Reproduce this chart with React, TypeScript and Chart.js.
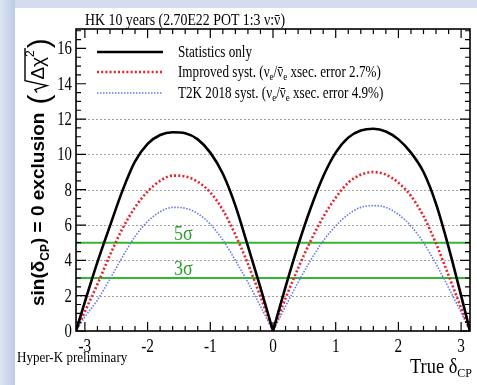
import React, { useEffect, useRef } from "react";
import { Chart, registerables } from "chart.js";

Chart.register(...registerables);

// ---------------- data ----------------
const deltaCP = [
  -3.1416, -3.0, -2.8, -2.6, -2.4, -2.2, -2.0, -1.8, -1.6, -1.4, -1.2, -1.0, -0.8, -0.6, -0.4, -0.2,
  0,
  0.2, 0.4, 0.6, 0.8, 1.0, 1.2, 1.4, 1.6, 1.8, 2.0, 2.2, 2.4, 2.6, 2.8, 3.0, 3.1416,
];
const statsOnly = [
  0, 1.65, 3.9, 5.95, 7.95, 9.6, 10.6, 11.1, 11.25, 11.2, 10.85, 10.1, 8.9, 7.1, 4.8, 2.45,
  0,
  2.5, 4.85, 6.95, 8.75, 10.1, 10.95, 11.35, 11.45, 11.3, 10.85, 10.1, 9.0, 7.2, 4.75, 2.0, 0,
];
const improvedSyst = [
  0, 1.1, 2.65, 4.3, 5.8, 7.0, 7.9, 8.5, 8.8, 8.75, 8.45, 7.85, 6.85, 5.45, 3.8, 1.95,
  0,
  1.85, 3.55, 5.1, 6.45, 7.55, 8.4, 8.85, 9.0, 8.85, 8.4, 7.65, 6.5, 4.95, 3.15, 1.3, 0,
];
const t2k2018Syst = [
  0, 0.8, 1.75, 2.95, 4.2, 5.35, 6.2, 6.75, 7.0, 6.95, 6.65, 6.05, 5.15, 4.0, 2.75, 1.4,
  0,
  1.4, 2.75, 4.0, 5.1, 5.95, 6.6, 7.0, 7.1, 7.0, 6.6, 5.95, 5.0, 3.8, 2.45, 1.05, 0,
];
const sigmaLevels = [5, 3];
const sigmaLabels = ["5σ", "3σ"];
const yTickValues = [0, 2, 4, 6, 8, 10, 12, 14, 16];
const xTickValues = [-3, -2, -1, 0, 1, 2, 3];
const gridValues = [2, 4, 6, 8, 10, 12];
const xMin = -Math.PI;
const xMax = Math.PI;
const yMin = 0;
const yMax = 17.1;

const W = 477;
const H = 385;
const SERIF = '"Liberation Serif"';
const SANS = '"Liberation Sans"';
const GREEN = "#34b534";

type Run = { t: string; font: string; dy?: number; over?: number; color?: string };

function runsWidth(ctx: any, runs: Run[], sx: number) {
  let w = 0;
  for (const r of runs) {
    ctx.font = r.font;
    w += ctx.measureText(r.t).width * sx;
  }
  return w;
}

function drawRuns(ctx: any, runs: Run[], x: number, y: number, sx: number, align = "left") {
  const total = runsWidth(ctx, runs, sx);
  let cx = align === "center" ? x - total / 2 : align === "right" ? x - total : x;
  for (const r of runs) {
    ctx.font = r.font;
    const w = ctx.measureText(r.t).width * sx;
    ctx.save();
    ctx.fillStyle = r.color || "#000";
    ctx.textAlign = "left";
    ctx.textBaseline = "alphabetic";
    ctx.translate(cx, y + (r.dy || 0));
    ctx.scale(sx, 1);
    ctx.fillText(r.t, 0, 0);
    ctx.restore();
    if (r.over) {
      ctx.fillStyle = r.color || "#000";
      ctx.fillRect(cx + 1, y + (r.dy || 0) - r.over, w - 2, 1);
    }
    cx += w;
  }
  return total;
}

function split(arr: number[]) {
  const zi = deltaCP.indexOf(0);
  const pts = arr.map((v, i) => ({ x: deltaCP[i], y: v }));
  return [pts.slice(0, zi + 1), pts.slice(zi)];
}

const decorPlugin = {
  id: "hkDecor",
  beforeDraw(chart: any) {
    const ctx = chart.ctx;
    ctx.save();
    const g = ctx.createLinearGradient(0, 0, 15, 0);
    g.addColorStop(0, "#dde5f2");
    g.addColorStop(1, "#bccbe6");
    ctx.fillStyle = g;
    ctx.fillRect(0, 0, W, H);
    ctx.fillStyle = "#d3ddef";
    ctx.fillRect(15, 0, W - 15, 8);
    ctx.fillStyle = "#ffffff";
    ctx.fillRect(15, 8, W - 15, H - 8);
    ctx.restore();
  },
  beforeDatasetsDraw(chart: any) {
    const { ctx, chartArea: a, scales } = chart;
    const ys = scales.y;
    ctx.save();
    ctx.strokeStyle = "#a0a0a0";
    ctx.lineWidth = 1;
    ctx.setLineDash([2, 2]);
    for (const v of gridValues) {
      const py = Math.round(ys.getPixelForValue(v)) + 0.5;
      ctx.beginPath();
      ctx.moveTo(a.left, py);
      ctx.lineTo(a.right, py);
      ctx.stroke();
    }
    ctx.restore();
  },
  afterDatasetsDraw(chart: any) {
    const { ctx, chartArea: a, scales } = chart;
    const xs = scales.x;
    const ys = scales.y;
    ctx.save();
    // frame
    ctx.strokeStyle = "#000";
    ctx.lineWidth = 1.6;
    ctx.strokeRect(a.left, a.top, a.right - a.left, a.bottom - a.top);
    // ticks
    ctx.lineWidth = 1.2;
    ctx.beginPath();
    for (let k = 0; k * 0.5 <= yMax; k++) {
      const v = k * 0.5;
      const py = ys.getPixelForValue(v);
      const len = k % 4 === 0 ? 10 : 5;
      ctx.moveTo(a.left, py);
      ctx.lineTo(a.left + len, py);
      ctx.moveTo(a.right, py);
      ctx.lineTo(a.right - len, py);
    }
    for (let k = -15; k <= 15; k++) {
      const v = k * 0.2;
      const px = xs.getPixelForValue(v);
      const len = k % 5 === 0 ? 9 : 5;
      ctx.moveTo(px, a.bottom);
      ctx.lineTo(px, a.bottom - len);
      ctx.moveTo(px, a.top);
      ctx.lineTo(px, a.top + len);
    }
    ctx.stroke();

    // tick labels
    ctx.fillStyle = "#000";
    for (const v of yTickValues) {
      const py = ys.getPixelForValue(v);
      drawRuns(ctx, [{ t: String(v), font: `18px ${SERIF}` }], a.left - 4, py + 6, 0.82, "right");
    }
    for (const v of xTickValues) {
      const px = xs.getPixelForValue(v);
      drawRuns(ctx, [{ t: String(v), font: `18px ${SERIF}` }], px, a.bottom + 21, 0.85, "center");
    }

    // sigma labels
    sigmaLevels.forEach((lv, i) => {
      const py = ys.getPixelForValue(lv);
      drawRuns(ctx, [{ t: sigmaLabels[i], font: `20px ${SERIF}`, color: "#2a9e2a" }], xs.getPixelForValue(-1.43), py - 3, 0.9, "center");
    });

    // title
    drawRuns(
      ctx,
      [
        { t: "HK 10 years (2.70E22 POT 1:3 ν:", font: `16.5px ${SERIF}` },
        { t: "ν", font: `16.5px ${SERIF}`, over: 10 },
        { t: ")", font: `16.5px ${SERIF}` },
      ],
      85,
      25,
      0.84
    );

    // legend
    const ds = chart.data.datasets.filter((d: any) => d.legendText);
    const rows = [52, 72, 93];
    ds.forEach((d: any, i: number) => {
      const y = rows[i];
      ctx.save();
      ctx.strokeStyle = d.borderColor;
      ctx.lineWidth = d.borderWidth;
      ctx.setLineDash(d.borderDash || []);
      ctx.beginPath();
      ctx.moveTo(97, y);
      ctx.lineTo(163, y);
      ctx.stroke();
      ctx.restore();
      drawRuns(ctx, d.legendText, 178, y + 5, 0.82);
    });

    // x title
    drawRuns(
      ctx,
      [
        { t: "True δ", font: `20px ${SERIF}` },
        { t: "CP", font: `13px ${SERIF}`, dy: 4 },
      ],
      472,
      373,
      0.92,
      "right"
    );
    // preliminary
    drawRuns(ctx, [{ t: "Hyper-K preliminary", font: `14.5px ${SERIF}` }], 17, 362, 0.9);

    // y title (rotated)
    ctx.save();
    ctx.translate(44, 306);
    ctx.rotate(-Math.PI / 2);
    let x = 0;
    x += drawRuns(ctx, [{ t: "sin(δ", font: `bold 19px ${SANS}` }], x, 0, 1);
    x += drawRuns(ctx, [{ t: "CP", font: `bold 12px ${SANS}`, dy: 5 }], x, 0, 1);
    x += drawRuns(ctx, [{ t: ") = 0 exclusion", font: `bold 19px ${SANS}` }], x, 0, 1);
    x += 8;
    x += drawRuns(ctx, [{ t: "(", font: `30px ${SANS}`, dy: 5 }], x, 0, 1);
    x += 2;
    const body: Run[] = [{ t: "Δχ", font: `19px ${SANS}` }];
    const bw = runsWidth(ctx, body, 1);
    ctx.strokeStyle = "#000";
    ctx.lineWidth = 1.4;
    ctx.beginPath();
    ctx.moveTo(x, -7);
    ctx.lineTo(x + 3, -9);
    ctx.lineTo(x + 7, 3);
    ctx.lineTo(x + 12, -19);
    ctx.lineTo(x + 12 + bw + 10, -19);
    ctx.stroke();
    x += 13;
    x += drawRuns(ctx, body, x, 0, 1);
    x += drawRuns(ctx, [{ t: "2", font: `12px ${SANS}`, dy: -10 }], x, 0, 1);
    x += 2;
    drawRuns(ctx, [{ t: ")", font: `30px ${SANS}`, dy: 5 }], x, 0, 1);
    ctx.restore();

    ctx.restore();
  },
};

export default function App() {
  const ref = useRef<HTMLCanvasElement>(null);
  useEffect(() => {
    document.body.style.margin = "0";
    const [sL, sR] = split(statsOnly);
    const [iL, iR] = split(improvedSyst);
    const [tL, tR] = split(t2k2018Syst);
    const blackStyle = { borderColor: "#000000", borderWidth: 2.6, borderDash: [] as number[], order: 0 };
    const redStyle = { borderColor: "#e8202c", borderWidth: 2.6, borderDash: [2, 2.2], order: 1 };
    const blueStyle = { borderColor: "#6677ee", borderWidth: 1.6, borderDash: [1.5, 1.5], order: 2 };
    const common = { pointRadius: 0, cubicInterpolationMode: "monotone" as const, fill: false };
    const sub = (t: string) => ({ t, font: `11px ${SERIF}`, dy: 3 });
    const nrm = (t: string) => ({ t, font: `16px ${SERIF}` });
    const nuBar = { t: "ν", font: `16px ${SERIF}`, over: 10 };
    const sigmaSets = sigmaLevels.map((lv) => ({
      label: `${lv} sigma`,
      data: [
        { x: xMin, y: lv },
        { x: xMax, y: lv },
      ],
      borderColor: GREEN,
      borderWidth: 2,
      pointRadius: 0,
      order: 10,
    }));
    const chart = new Chart(ref.current as HTMLCanvasElement, {
      type: "line",
      data: {
        datasets: [
          {
            label: "Statistics only",
            legendText: [nrm("Statistics only")],
            data: sL,
            ...blackStyle,
            ...common,
          },
          {
            label: "Improved syst. (νe/ν̄e xsec. error 2.7%)",
            legendText: [nrm("Improved syst. (ν"), sub("e"), nrm("/"), nuBar, sub("e"), nrm(" xsec. error 2.7%)")],
            data: iL,
            ...redStyle,
            ...common,
          },
          {
            label: "T2K 2018 syst. (νe/ν̄e xsec. error 4.9%)",
            legendText: [nrm("T2K 2018 syst. (ν"), sub("e"), nrm("/"), nuBar, sub("e"), nrm(" xsec. error 4.9%)")],
            data: tL,
            ...blueStyle,
            ...common,
          },
          { label: "", data: sR, ...blackStyle, ...common },
          { label: "", data: iR, ...redStyle, ...common },
          { label: "", data: tR, ...blueStyle, ...common },
          ...sigmaSets,
        ] as any,
      },
      options: {
        responsive: false,
        animation: false,
        devicePixelRatio: 1,
        layout: { padding: { left: 76, top: 29, right: 7, bottom: 54 } },
        plugins: { legend: { display: false }, tooltip: { enabled: false }, title: { display: false } },
        scales: {
          x: { type: "linear", min: xMin, max: xMax, display: false },
          y: { type: "linear", min: yMin, max: yMax, display: false },
        },
      },
      plugins: [decorPlugin],
    } as any);
    return () => chart.destroy();
  }, []);
  return (
    <div style={{ width: W, height: H }}>
      <canvas ref={ref} width={W} height={H} style={{ display: "block", width: W, height: H }} />
    </div>
  );
}
